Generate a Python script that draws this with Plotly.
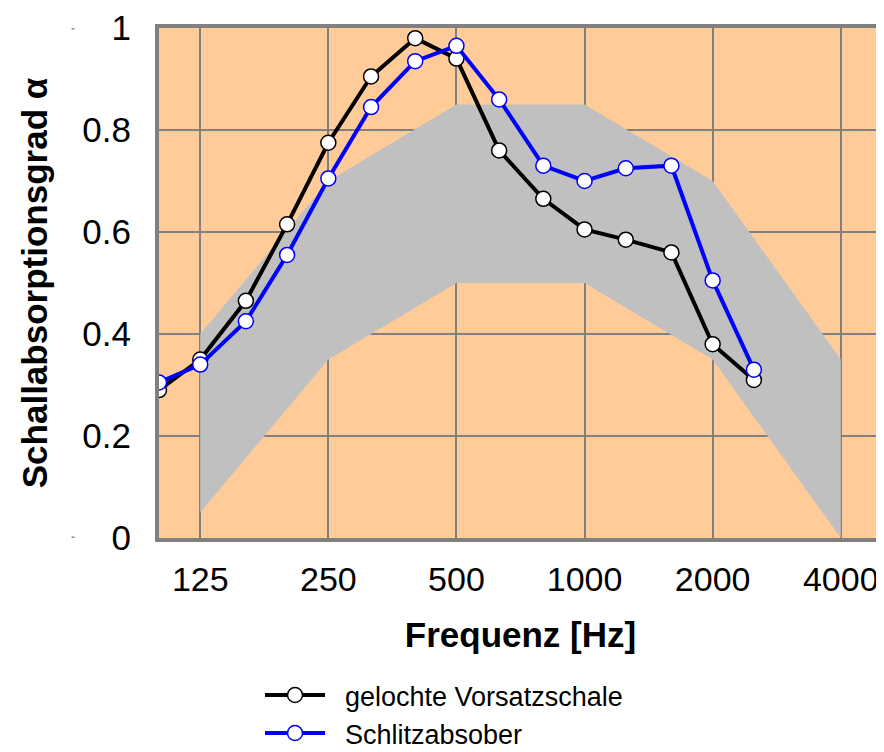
import plotly.graph_objects as go

freq = [100, 125, 160, 200, 250, 315, 400, 500, 630, 800, 1000, 1250, 1600, 2000, 2500]
gelochte = [0.29, 0.35, 0.465, 0.615, 0.775, 0.905, 0.98, 0.94, 0.76, 0.665, 0.605, 0.585, 0.56, 0.38, 0.31]
schlitz = [0.305, 0.34, 0.425, 0.555, 0.705, 0.845, 0.935, 0.965, 0.86, 0.73, 0.70, 0.725, 0.73, 0.505, 0.33]

band_freq = [125, 250, 500, 1000, 2000, 4000]
band_upper = [0.40, 0.70, 0.85, 0.85, 0.70, 0.35]
band_lower = [0.05, 0.35, 0.50, 0.50, 0.35, 0.00]

x_ticks = [125, 250, 500, 1000, 2000, 4000]
y_ticks = [0, 0.2, 0.4, 0.6, 0.8, 1]

FONT = "Liberation Sans, Arial, sans-serif"
NB = "\u00a0\u00a0"

W, H = 876, 744
ML, MR, MT, MB = 151, 2, 20, 214
PLOT_H = H - MT - MB
PLOT_W = W - ML - MR

fig = go.Figure()

fig.add_trace(go.Scatter(
    x=band_freq + band_freq[::-1],
    y=band_upper + band_lower[::-1],
    fill="toself", fillcolor="#C0C0C0", mode="lines",
    line=dict(width=0, color="#C0C0C0"), showlegend=False, hoverinfo="skip"))

fig.add_trace(go.Scatter(
    x=freq, y=gelochte, mode="lines+markers", name=NB + "gelochte Vorsatzschale",
    line=dict(color="black", width=4),
    marker=dict(symbol="circle", size=15, color="white", line=dict(color="black", width=1.5)),
    legend="legend"))

fig.add_trace(go.Scatter(
    x=freq, y=schlitz, mode="lines+markers", name=NB + "Schlitzabsober",
    line=dict(color="#0000FF", width=4),
    marker=dict(symbol="circle", size=15, color="white", line=dict(color="#0000FF", width=1.5)),
    legend="legend2"))

# small dots left of the y axis
dot_x = -86 / PLOT_W
for yv in [0, 1]:
    fig.add_shape(type="circle", xref="paper", yref="y",
                  x0=dot_x - 0.0025, x1=dot_x + 0.0025, y0=yv - 0.0035, y1=yv + 0.0035,
                  fillcolor="#909090", line=dict(width=0))

y_leg2 = (-MB - 7) / PLOT_H + 0.002
y_leg1 = y_leg2 + 38 / PLOT_H
leg_x = 101 / PLOT_W

fig.update_layout(
    width=W, height=H,
    margin=dict(l=ML, r=MR, t=MT, b=MB, autoexpand=False),
    paper_bgcolor="white", plot_bgcolor="#FFCC99",
    font=dict(family=FONT, color="black"),
    legend=dict(x=leg_x, y=y_leg1, xanchor="left", yanchor="bottom",
                font=dict(size=27, family=FONT), itemwidth=60, bgcolor="rgba(0,0,0,0)"),
    legend2=dict(x=leg_x, y=y_leg2, xanchor="left", yanchor="bottom",
                 font=dict(size=27, family=FONT), itemwidth=60, bgcolor="rgba(0,0,0,0)"),
)

fig.update_xaxes(
    type="log", range=[2, 3.69897],
    tickvals=x_ticks, ticktext=[str(v) for v in x_ticks],
    tickfont=dict(size=34), ticks="", ticklabelstandoff=8,
    showgrid=True, gridcolor="#808080", gridwidth=2,
    showline=True, linecolor="#808080", linewidth=4, mirror=True,
    title=dict(text="<b>Frequenz [Hz]</b>", font=dict(size=35), standoff=27),
    zeroline=False)

fig.update_yaxes(
    range=[0, 1], tickvals=y_ticks, ticktext=["0", "0.2", "0.4", "0.6", "0.8", "1"],
    tickfont=dict(size=35), ticks="", ticklabelstandoff=17,
    showgrid=True, gridcolor="#808080", gridwidth=2,
    showline=True, linecolor="#808080", linewidth=4, mirror=True,
    title=dict(text="<b>Schallabsorptionsgrad α</b>", font=dict(size=35), standoff=25),
    zeroline=False)

fig.write_html("out.html")
